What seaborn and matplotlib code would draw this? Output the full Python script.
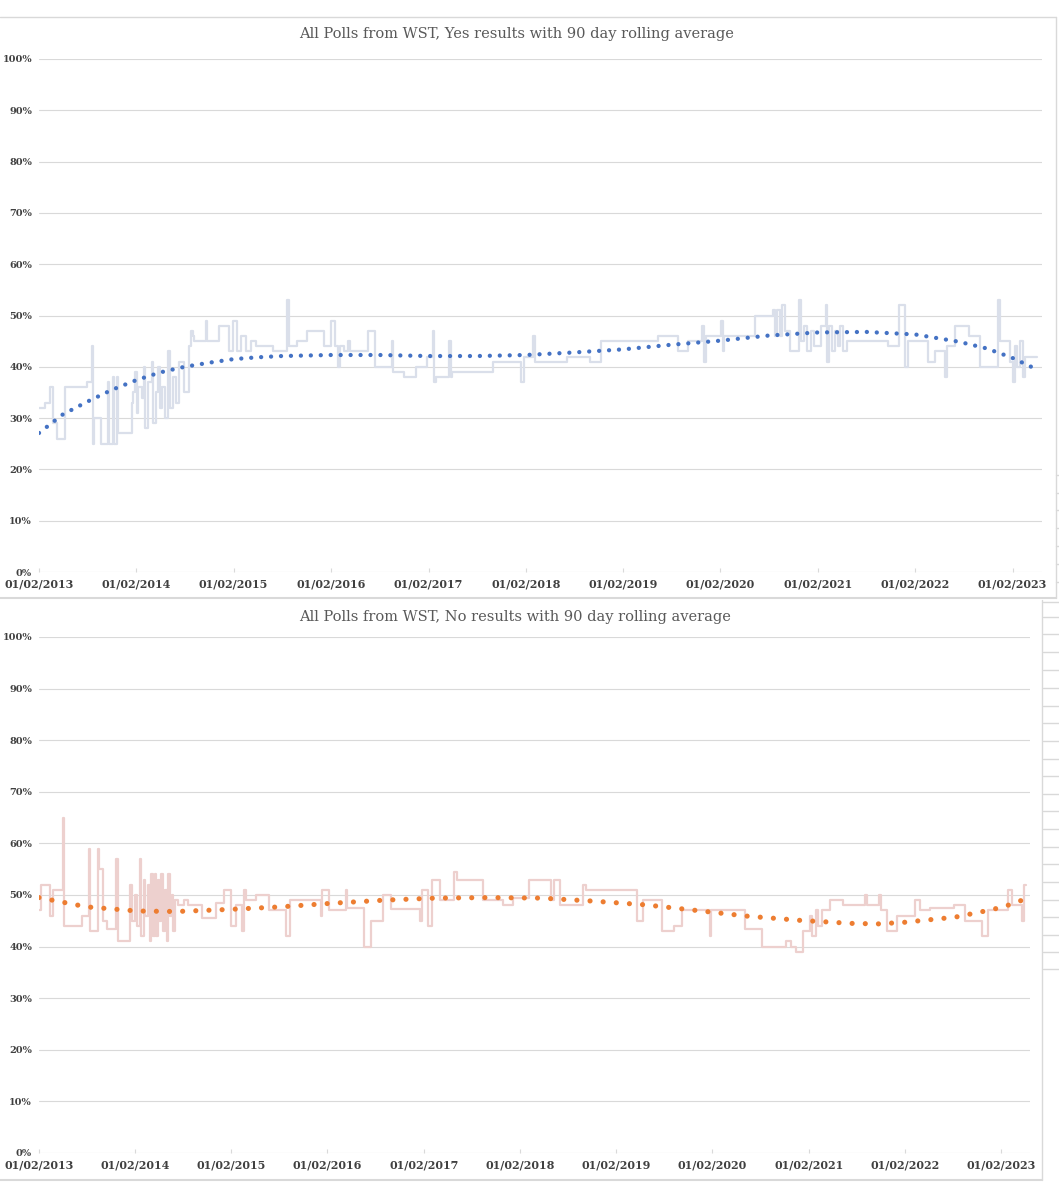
# Two stacked Excel-style charts: WST polls, Yes / No with trendlines
import pandas as pd
import matplotlib.pyplot as plt
import matplotlib.lines as mlines
import matplotlib.ticker as mticker
import seaborn as sns

sns.set_style("white")
plt.rcParams['font.family'] = ['DejaVu Serif', 'DejaVu Sans']

# ---- data ----
tick_labels = ["01/02/2013", "01/02/2014", "01/02/2015", "01/02/2016", "01/02/2017",
               "01/02/2018", "01/02/2019", "01/02/2020", "01/02/2021", "01/02/2022",
               "01/02/2023"]

yes_dates = ["2013-02-01", "2013-02-25", "2013-03-15", "2013-03-27", "2013-04-10", "2013-05-10",
             "2013-08-01", "2013-08-20", "2013-08-24", "2013-08-28", "2013-09-22", "2013-10-16",
             "2013-10-20", "2013-11-05", "2013-11-09", "2013-11-20", "2013-11-24", "2014-01-15",
             "2014-01-20", "2014-01-27", "2014-02-02", "2014-02-09", "2014-02-22", "2014-02-28",
             "2014-03-04", "2014-03-15", "2014-03-30", "2014-04-05", "2014-04-15", "2014-04-24",
             "2014-05-01", "2014-05-07", "2014-05-19", "2014-06-01", "2014-06-08", "2014-06-20",
             "2014-07-01", "2014-07-10", "2014-07-28", "2014-08-16", "2014-08-24", "2014-08-31",
             "2014-09-06", "2014-10-19", "2014-10-25", "2014-12-09", "2015-01-16", "2015-01-30",
             "2015-02-12", "2015-03-01", "2015-03-19", "2015-04-08", "2015-04-27", "2015-06-30",
             "2015-08-22", "2015-08-28", "2015-09-27", "2015-11-03", "2016-01-06", "2016-02-02",
             "2016-02-15", "2016-02-27", "2016-03-05", "2016-03-22", "2016-04-04", "2016-04-12",
             "2016-06-19", "2016-07-15", "2016-09-16", "2016-09-22", "2016-11-01", "2016-12-16",
             "2017-01-28", "2017-02-16", "2017-02-22", "2017-03-01", "2017-04-20", "2017-04-26",
             "2017-05-01", "2017-10-01", "2018-01-12", "2018-01-25", "2018-03-01", "2018-03-08",
             "2018-07-04", "2018-10-01", "2018-11-09", "2019-06-12", "2019-08-27", "2019-10-04",
             "2019-11-25", "2019-12-01", "2019-12-07", "2020-02-03", "2020-02-09", "2020-02-15",
             "2020-06-08", "2020-08-16", "2020-08-25", "2020-09-01", "2020-09-12", "2020-09-20",
             "2020-10-01", "2020-10-19", "2020-11-20", "2020-11-28", "2020-12-10", "2020-12-20",
             "2021-01-05", "2021-01-15", "2021-02-12", "2021-03-03", "2021-03-07", "2021-03-15",
             "2021-03-25", "2021-04-05", "2021-04-15", "2021-04-25", "2021-05-05", "2021-05-22",
             "2021-10-22", "2021-12-01", "2021-12-25", "2022-01-05", "2022-03-22", "2022-04-16",
             "2022-05-24", "2022-06-01", "2022-07-01", "2022-08-22", "2022-09-30", "2022-12-08",
             "2022-12-15", "2023-01-22", "2023-02-01", "2023-02-10", "2023-02-16", "2023-03-01",
             "2023-03-10", "2023-03-20", "2023-05-02"]
yes_values = [32, 33, 36, 29, 26, 36,
              37, 44, 25, 30, 25, 37,
              25, 38, 25, 38, 27, 33,
              35, 39, 31, 36, 34, 40,
              28, 37, 41, 29, 35, 40,
              32, 36, 30, 43, 32, 38,
              33, 41, 35, 44, 47, 46,
              45, 49, 45, 48, 43, 49,
              43, 46, 43, 45, 44, 43,
              53, 44, 45, 47, 44, 49,
              44, 40, 44, 43, 45, 43,
              47, 40, 45, 39, 38, 40,
              42, 47, 37, 38, 45, 38,
              39, 41, 37, 42, 46, 41,
              42, 41, 45, 46, 43, 45,
              48, 41, 46, 49, 43, 46,
              50, 51, 46, 51, 46, 52,
              47, 43, 53, 45, 48, 43,
              47, 44, 48, 52, 41, 48,
              43, 47, 44, 48, 43, 45,
              44, 52, 40, 45, 41, 43,
              38, 44, 48, 46, 40, 53,
              45, 41, 37, 44, 40, 45,
              38, 42, 42]

yes_trend_dates = ["2013-02-01", "2013-05-01", "2013-08-01", "2013-11-01", "2014-02-01",
                   "2014-05-01", "2014-08-01", "2014-11-01", "2015-02-01", "2015-05-01",
                   "2015-08-01", "2016-02-01", "2016-08-01", "2017-02-01", "2017-08-01",
                   "2018-02-01", "2018-08-01", "2019-02-01", "2019-08-01", "2020-02-01",
                   "2020-08-01", "2021-02-01", "2021-08-01", "2022-02-01", "2022-07-13",
                   "2022-10-25", "2023-01-28", "2023-04-28"]
yes_trend_values = [27.1, 30.7, 33.2, 35.5, 37.4,
                    38.9, 40.0, 40.8, 41.5, 41.85,
                    42.1, 42.3, 42.3, 42.1, 42.1,
                    42.3, 42.8, 43.4, 44.3, 45.1,
                    46.1, 46.7, 46.8, 46.3, 44.9,
                    43.6, 41.8, 39.6]

no_dates = ["2013-02-01", "2013-02-07", "2013-03-15", "2013-03-28", "2013-05-03", "2013-05-08",
            "2013-07-15", "2013-08-10", "2013-08-14", "2013-09-12", "2013-09-18", "2013-10-01",
            "2013-10-19", "2013-11-22", "2013-11-28", "2014-01-13", "2014-01-19", "2014-02-01",
            "2014-02-09", "2014-02-19", "2014-02-25", "2014-03-05", "2014-03-10", "2014-03-22",
            "2014-03-28", "2014-04-04", "2014-04-10", "2014-04-16", "2014-04-22", "2014-04-28",
            "2014-05-04", "2014-05-12", "2014-05-18", "2014-05-24", "2014-06-01", "2014-06-06",
            "2014-06-12", "2014-06-19", "2014-06-25", "2014-07-02", "2014-07-15", "2014-08-04",
            "2014-08-22", "2014-10-12", "2014-12-04", "2015-01-06", "2015-02-01", "2015-02-19",
            "2015-03-15", "2015-03-21", "2015-03-27", "2015-05-06", "2015-06-26", "2015-08-28",
            "2015-09-12", "2016-01-06", "2016-01-12", "2016-02-06", "2016-04-10", "2016-04-16",
            "2016-06-19", "2016-07-15", "2016-08-28", "2016-10-01", "2017-01-18", "2017-01-24",
            "2017-02-18", "2017-03-02", "2017-04-04", "2017-05-25", "2017-06-07", "2017-09-13",
            "2017-11-28", "2018-01-06", "2018-03-06", "2018-05-28", "2018-06-10", "2018-07-01",
            "2018-09-28", "2018-10-10", "2019-04-20", "2019-05-15", "2019-07-25", "2019-09-09",
            "2019-10-10", "2020-01-22", "2020-01-28", "2020-06-04", "2020-08-07", "2020-11-06",
            "2020-11-25", "2020-12-13", "2021-01-09", "2021-02-04", "2021-02-15", "2021-03-01",
            "2021-03-10", "2021-03-25", "2021-04-21", "2021-06-10", "2021-09-03", "2021-09-09",
            "2021-10-24", "2021-11-01", "2021-11-25", "2022-01-03", "2022-03-13", "2022-04-01",
            "2022-05-09", "2022-08-07", "2022-09-16", "2022-11-19", "2022-12-13", "2023-03-01",
            "2023-03-13", "2023-04-22", "2023-05-01", "2023-05-06"]
no_values = [47, 52, 46, 51, 65, 44,
             46, 59, 43, 59, 55, 45,
             43.5, 57, 41, 52, 45, 50,
             44, 57, 42, 53, 46, 52,
             41, 54, 42, 54, 42, 53,
             45, 54, 43, 51, 41, 54,
             46, 50, 43, 49, 48, 49,
             48, 45.5, 48.5, 51, 44, 48,
             43, 51, 49, 50, 47, 42,
             49, 46, 51, 47, 51, 47.5,
             40, 45, 50, 47.3, 45, 51,
             44, 53, 49, 54.5, 53, 49,
             48, 49.5, 53, 49, 53, 48,
             52, 51, 45, 49, 43, 44,
             47, 42, 47, 43.5, 40, 41,
             40, 39, 43, 46, 42, 47,
             44, 47, 49, 48, 50, 48,
             50, 47, 43, 46, 49, 47,
             47.5, 48, 45, 42, 47, 51,
             48, 45, 52, 52]

no_trend_dates = ["2013-02-01", "2013-08-01", "2014-02-08", "2014-07-06", "2015-01-22",
                  "2015-08-06", "2016-02-18", "2016-09-03", "2017-03-18", "2017-10-07",
                  "2018-04-24", "2018-11-10", "2019-05-22", "2019-12-04", "2020-06-13",
                  "2020-12-27", "2021-07-12", "2021-10-22", "2022-01-28", "2022-08-10",
                  "2023-01-01", "2023-03-26", "2023-05-04"]
no_trend_values = [49.5, 47.7, 46.9, 46.8, 47.2,
                   47.7, 48.4, 49.0, 49.4, 49.5,
                   49.4, 48.8, 48.1, 47.0, 45.9,
                   45.1, 44.5, 44.4, 44.7, 45.7,
                   47.2, 48.4, 49.3]

titles = ["All Polls from WST, Yes results with 90 day rolling average",
          "All Polls from WST, No results with 90 day rolling average"]

# ---- figure in pixel units ----
W, H = 1059, 1200
fig = plt.figure(figsize=(W / 100, H / 100), dpi=100)


def px_axes(left, top, right, bottom):
    return fig.add_axes([left / W, 1 - bottom / H, (right - left) / W, (bottom - top) / H])


def fig_line(x0, y0, x1, y1, color="#D9D9D9", lw=1.0):
    fig.add_artist(mlines.Line2D([x0 / W, x1 / W], [1 - y0 / H, 1 - y1 / H],
                                 color=color, lw=lw, transform=fig.transFigure))


tick_dates = pd.to_datetime(tick_labels, format="%d/%m/%Y")
x_start = pd.Timestamp("2013-02-01")
x_end = pd.Timestamp("2023-05-22")


def draw_chart(ax, dates, values, tdates, tvalues, raw_color, dot_color, dot_lw, gap):
    raw = pd.DataFrame({"date": pd.to_datetime(dates), "value": values})
    trend = pd.DataFrame({"date": pd.to_datetime(tdates), "value": tvalues})
    sns.lineplot(data=raw, x="date", y="value", ax=ax, color=raw_color, lw=1.6,
                 drawstyle="steps-post", zorder=2)
    sns.lineplot(data=trend, x="date", y="value", ax=ax, color=dot_color, lw=dot_lw,
                 linestyle=(0, (0.01, gap)), dash_capstyle="round", zorder=3)
    ax.set_xlim(x_start, x_end)
    ax.set_ylim(0, 100)
    ax.set_yticks(range(0, 101, 10))
    ax.yaxis.set_major_formatter(mticker.FuncFormatter(lambda v, p: f"{v:.0f}%"))
    ax.set_xticks(tick_dates)
    ax.set_xticklabels(tick_labels)
    ax.grid(axis="y", color="#D9D9D9", lw=0.8)
    ax.grid(axis="x", visible=False)
    for s in ax.spines.values():
        s.set_visible(False)
    ax.tick_params(axis="y", length=0, pad=5, labelsize=7, labelcolor="#404040")
    ax.tick_params(axis="x", length=3, direction="in", color="#D9D9D9", pad=5,
                   labelsize=8, labelcolor="#404040", bottom=True)
    for lab in ax.get_xticklabels() + ax.get_yticklabels():
        lab.set_fontweight("bold")
    ax.set_xlabel("")
    ax.set_ylabel("")
    ax.patch.set_alpha(0)


ax1 = px_axes(39, 59, 1042, 572)
draw_chart(ax1, yes_dates, yes_values, yes_trend_dates, yes_trend_values,
           "#DADFEA", "#4472C4", 3.1, 2.3)

ax2 = px_axes(39, 637, 1030, 1153)
draw_chart(ax2, no_dates, no_values, no_trend_dates, no_trend_values,
           "#EDD0CE", "#ED7D31", 3.7, 2.55)

fig.text(517 / W, 1 - 34 / H, titles[0], ha="center", va="center",
         fontsize=10.5, color="#595959")
fig.text(515 / W, 1 - 617 / H, titles[1], ha="center", va="center",
         fontsize=10.5, color="#595959")

# chart frames and the window behind them
fig_line(0, 17, 1056, 17)
fig_line(1056, 17, 1056, 598)
fig_line(0, 598, 1056, 598, lw=1.5)
fig_line(1043, 602, 1059, 602)
fig_line(1042, 600, 1042, 1180)
fig_line(0, 1180, 1042, 1180, lw=1.5)
for y in [475, 493, 510, 528, 546, 564, 582]:
    fig_line(1056, y, 1059, y)
for y in [617, 634, 652, 670, 688, 706, 723, 741, 759, 776, 794, 811, 829, 847,
          864, 882, 900, 917, 935, 952, 969]:
    fig_line(1043, y, 1059, y)

fig.savefig("out.png", dpi=100)
